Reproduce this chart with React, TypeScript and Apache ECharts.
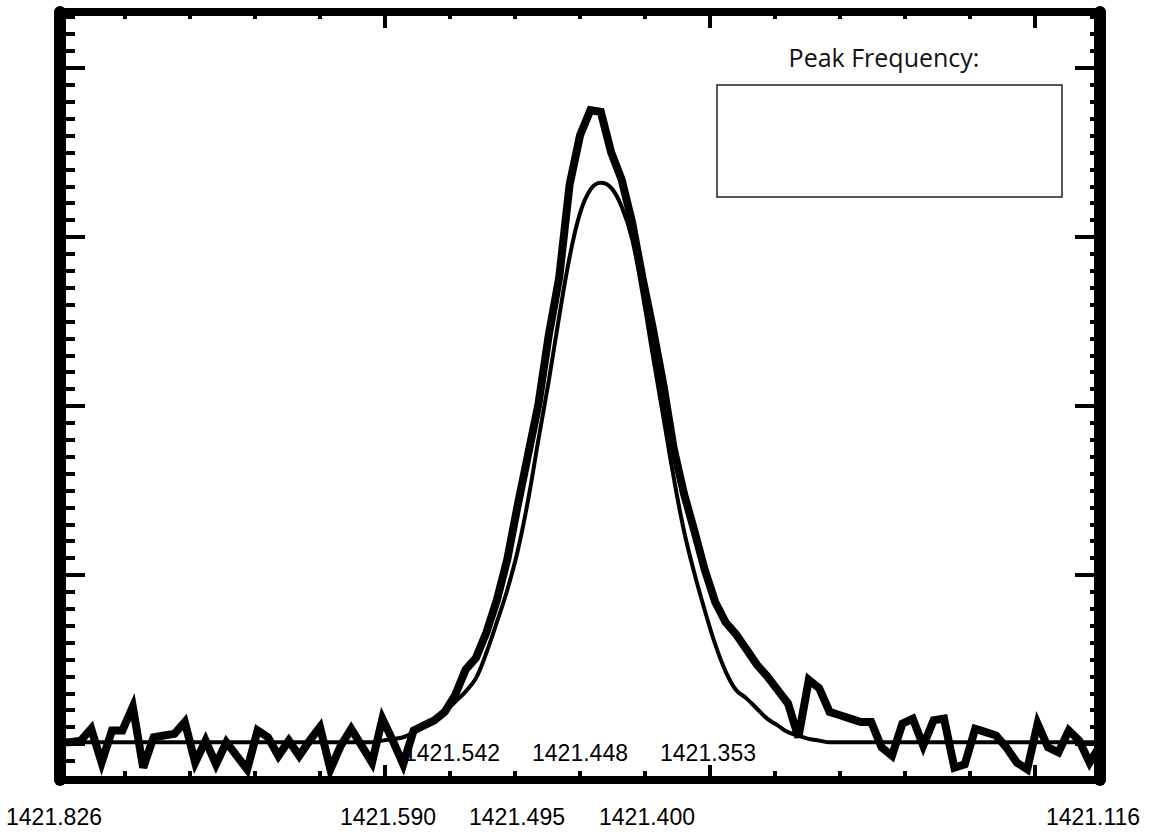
import React, { useEffect, useRef } from "react";
import * as echarts from "echarts";

// ---- data ----
const FREQ_LEFT = 1421.826; // MHz, left edge of the spectrum
const FREQ_RIGHT = 1421.116; // MHz, right edge of the spectrum

// measured spectrum (antenna temperature, arbitrary units), one value per channel, left -> right
const spectrum = [
  0.1, 0.1, 0.2, 0.9, -1.1, 0.8, 0.8, 2.2, -1.4, 0.4,
  0.5, 0.6, 1.3, -1.1, 0.2, -1.2, 0.1, -0.7, -1.5, 0.8,
  0.4, -0.7, 0.2, -0.7, 0.2, 1.0, -1.5, -0.1, 0.9, -0.1,
  -1.1, 1.5, 0.2, -1.2, 0.8, 1.1, 1.4, 1.9, 2.9, 4.4,
  5.1, 6.6, 8.5, 10.9, 14.1, 17.1, 20.1, 24.2, 27.6, 33.1,
  36.0, 37.5, 37.4, 35.0, 33.4, 30.9, 27.6, 24.6, 21.3, 17.5,
  14.8, 12.6, 10.3, 8.4, 7.2, 6.5, 5.6, 4.7, 4.0, 3.2,
  2.4, 0.4, 3.8, 3.3, 1.9, 1.7, 1.5, 1.3, 1.3, -0.2,
  -0.7, 1.2, 1.5, -0.1, 1.4, 1.5, -1.4, -1.2, 0.9, 0.7,
  0.5, -0.2, -1.1, -1.5, 1.2, -0.2, -0.5, 0.8, 0.2, -1.1,
  -0.1,
];

// fitted profile, same channels
const fitProfile = [
  0.1, 0.1, 0.1, 0.1, 0.1, 0.1, 0.1, 0.1, 0.1, 0.1,
  0.1, 0.1, 0.1, 0.1, 0.1, 0.1, 0.1, 0.1, 0.1, 0.1,
  0.1, 0.1, 0.1, 0.1, 0.1, 0.1, 0.1, 0.1, 0.1, 0.1,
  0.1, 0.2, 0.3, 0.4, 0.7, 1.0, 1.4, 1.9, 2.5, 3.1,
  3.9, 5.4, 7.2, 9.1, 11.4, 14.4, 18.0, 21.5, 25.3, 28.8,
  31.4, 32.8, 33.2, 32.9, 31.8, 29.9, 26.7, 23.0, 19.4, 15.8,
  12.6, 10.1, 7.9, 5.9, 4.3, 3.2, 2.7, 2.1, 1.5, 1.1,
  0.7, 0.5, 0.3, 0.2, 0.1, 0.1, 0.1, 0.1, 0.1, 0.1,
  0.1, 0.1, 0.1, 0.1, 0.1, 0.1, 0.1, 0.1, 0.1, 0.1,
  0.1, 0.1, 0.1, 0.1, 0.1, 0.1, 0.1, 0.1, 0.1, 0.1,
  0.1,
];

const bottomLabels = ["1421.826", "1421.590", "1421.495", "1421.400", "1421.116"];
const innerLabels = ["1421.542", "1421.448", "1421.353"];
const peakTitle = "Peak Frequency:";

// ---- layout (pixels) ----
const W = 1155;
const H = 834;
const bottomLabelX = [54, 388, 517, 647, 1093];
const bottomLabelY = 817;
const innerLabelX = [452, 580, 708];
const innerLabelY = 753;

const Y_MIN = -2.13;
const Y_MAX = 43.31;

const channelStep = (FREQ_LEFT - FREQ_RIGHT) / (spectrum.length - 1);
const freqOf = (i: number) => +(FREQ_LEFT - i * channelStep).toFixed(5);

const X_TICK_STEP = (FREQ_LEFT - FREQ_RIGHT) / 16;
const xMinorTicks = Array.from({ length: 17 }, (_, k) => +(FREQ_LEFT - k * X_TICK_STEP).toFixed(6));
const xMajorTicks = [0, 5, 10, 15].map((k) => +(FREQ_LEFT - k * X_TICK_STEP).toFixed(6));
const yMinorTicks = Array.from({ length: 46 }, (_, k) => k - 2);
const yMajorTicks = [0, 10, 20, 30, 40];

export default function App() {
  const ref = useRef<HTMLDivElement>(null);

  useEffect(() => {
    if (!ref.current) return;
    const chart = echarts.init(ref.current, undefined, { renderer: "svg" });

    const xBase = (position: string, ticks: number[], len: number, lineW: number, showLine: boolean) => ({
      type: "value",
      position,
      min: FREQ_RIGHT,
      max: FREQ_LEFT,
      inverse: true,
      axisLine: { show: showLine, onZero: false, lineStyle: { color: "#000", width: lineW } },
      axisTick: { show: true, inside: true, length: len, customValues: ticks, lineStyle: { color: "#000", width: 4 } },
      axisLabel: { show: false },
      splitLine: { show: false },
    });
    const yBase = (position: string, ticks: number[], len: number, lineW: number, showLine: boolean) => ({
      type: "value",
      position,
      min: Y_MIN,
      max: Y_MAX,
      axisLine: { show: showLine, onZero: false, lineStyle: { color: "#000", width: lineW } },
      axisTick: { show: true, inside: true, length: len, customValues: ticks, lineStyle: { color: "#000", width: 4 } },
      axisLabel: { show: false },
      splitLine: { show: false },
    });

    const textStyle = (text: string, size: number) => ({
      text,
      fontSize: size,
      fontFamily: "Liberation Sans, Arial, sans-serif",
      fill: "#000",
      align: "center",
      verticalAlign: "middle",
    });

    const graphics: any[] = [];
    bottomLabels.forEach((t, i) => {
      graphics.push({ type: "text", x: bottomLabelX[i], y: bottomLabelY, z: 0, style: textStyle(t, 23) });
    });
    innerLabels.forEach((t, i) => {
      graphics.push({ type: "text", x: innerLabelX[i], y: innerLabelY, z: 0, style: textStyle(t, 23) });
    });
    graphics.push({
      type: "text",
      x: 884,
      y: 57,
      z: 0,
      style: { text: peakTitle, fontSize: 25, fontFamily: "Open Sans, Noto Sans, sans-serif", fill: "#111", align: "center", verticalAlign: "middle" },
    });
    graphics.push({
      type: "rect",
      z: 0,
      shape: { x: 717, y: 85, width: 345, height: 112 },
      style: { fill: "#fff", stroke: "#222", lineWidth: 1.5 },
    });

    chart.setOption({
      animation: false,
      backgroundColor: "#fff",
      grid: {
        left: 60,
        right: W - 1100,
        top: 12,
        bottom: H - 780,
        show: true,
        borderColor: "#000",
        borderWidth: 8,
        backgroundColor: "transparent",
      },
      xAxis: [
        xBase("bottom", xMinorTicks, 9, 8, true),
        xBase("bottom", xMajorTicks, 15, 8, false),
        xBase("top", xMinorTicks, 7, 8, true),
        xBase("top", xMajorTicks, 16, 8, false),
      ],
      yAxis: [
        yBase("left", yMinorTicks, 15, 12, true),
        yBase("left", yMajorTicks, 25, 12, false),
        yBase("right", yMinorTicks, 10, 12, true),
        yBase("right", yMajorTicks, 25, 12, false),
      ],
      graphic: graphics,
      series: [
        {
          name: "Fit",
          type: "line",
          xAxisIndex: 0,
          yAxisIndex: 0,
          data: fitProfile.map((v, i) => [freqOf(i), v]),
          showSymbol: false,
          symbol: "none",
          smooth: 0.4,
          silent: true,
          z: 3,
          lineStyle: { color: "#000", width: 4 },
        },
        {
          name: "Spectrum",
          type: "line",
          xAxisIndex: 0,
          yAxisIndex: 0,
          data: spectrum.map((v, i) => [freqOf(i), v]),
          showSymbol: false,
          symbol: "none",
          silent: true,
          z: 4,
          lineStyle: { color: "#000", width: 8, join: "miter" },
        },
      ],
    });

    return () => chart.dispose();
  }, []);

  return (
    <div
      ref={ref}
      style={{ position: "absolute", left: 0, top: 0, width: W, height: H, background: "#fff" }}
    />
  );
}
